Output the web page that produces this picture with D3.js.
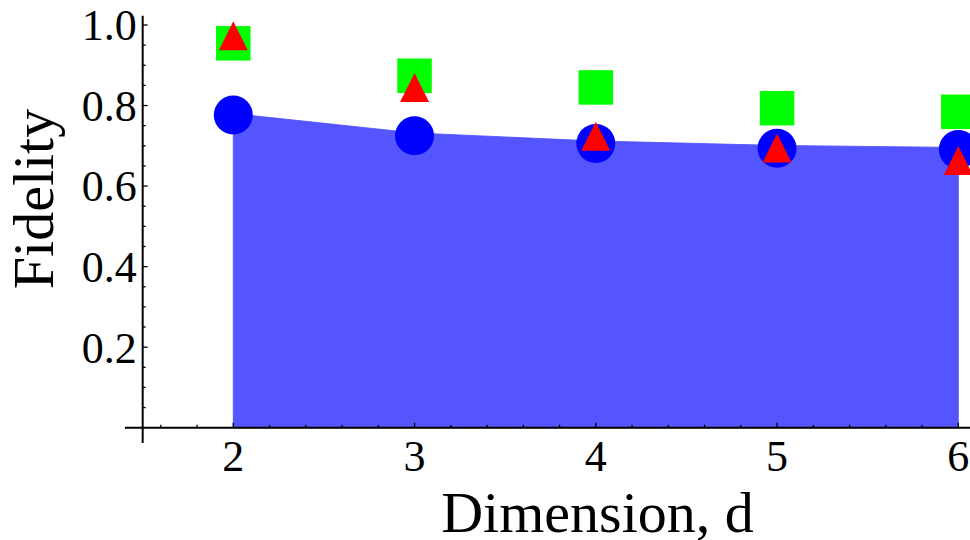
<!DOCTYPE html>
<html>
<head>
<meta charset="utf-8">
<script src="https://cdn.jsdelivr.net/npm/d3@7"></script>
<style>
  html, body { margin: 0; padding: 0; background: #fff; }
  svg { display: block; }
  text { font-family: "Liberation Serif", "Times New Roman", serif; fill: #000; }
</style>
</head>
<body>
<svg id="chart" width="970" height="540"></svg>
<script>
// Dimensions d
const dims = [2, 3, 4, 5, 6];
// Shaded bound (upper edge of the filled region)
const boundValues = [0.780, 0.732, 0.712, 0.701, 0.696];
// Blue circles
const circleValues = [0.7765, 0.725, 0.706, 0.694, 0.691];
// Green squares
const squareValues = [0.9545, 0.874, 0.845, 0.7934, 0.7845];
// Red triangles
const triangleValues = [0.973, 0.845, 0.724, 0.6946, 0.6635];

const xTickValues = [2, 3, 4, 5, 6];
const yTickValues = [0.2, 0.4, 0.6, 0.8, 1.0];
const xLabel = "Dimension, d";
const yLabel = "Fidelity";

const svg = d3.select("#chart");

const x = d3.scaleLinear().domain([2, 6]).range([233.3, 958.3]);
const y = d3.scaleLinear().domain([0, 1]).range([427.7, 25]);

const axisX = x(1.5);   // vertical axis crosses at d = 1.5
const axisY = y(0);

// Filled region under the bound
const area = d3.area()
  .x((d, i) => x(dims[i]))
  .y0(y(0))
  .y1(d => y(d));
svg.append("path")
  .datum(boundValues)
  .attr("d", area)
  .attr("fill", "#5555ff")
  .attr("stroke", "#4a4aff")
  .attr("stroke-width", 0.8);

// Axes lines
const axes = svg.append("g").attr("stroke", "#000").attr("stroke-width", 2);
axes.append("line")
  .attr("x1", x(1.402)).attr("x2", 970)
  .attr("y1", axisY).attr("y2", axisY);
axes.append("line")
  .attr("x1", axisX).attr("x2", axisX)
  .attr("y1", y(-0.038)).attr("y2", y(1.023));

// x ticks (major every 1, minor every 0.2), drawn inward (upward)
const xMinor = d3.range(1.6, 6.05, 0.2).map(v => Math.round(v * 10) / 10)
  .filter(v => !xTickValues.includes(v));
const tickG = svg.append("g").attr("stroke", "#000").attr("stroke-width", 1.3);
tickG.selectAll(".xmaj").data(xTickValues).join("line")
  .attr("x1", d => x(d)).attr("x2", d => x(d))
  .attr("y1", axisY).attr("y2", axisY - 5);
tickG.selectAll(".xmin").data(xMinor).join("line")
  .attr("x1", d => x(d)).attr("x2", d => x(d))
  .attr("y1", axisY).attr("y2", axisY - 3);

// y ticks (major every 0.2, minor every 0.05), drawn inward (rightward)
const yMinor = d3.range(0.05, 1.0, 0.05).map(v => Math.round(v * 100) / 100)
  .filter(v => !yTickValues.some(t => Math.abs(t - v) < 1e-6));
tickG.selectAll(".ymaj").data(yTickValues).join("line")
  .attr("x1", axisX).attr("x2", axisX + 5)
  .attr("y1", d => y(d)).attr("y2", d => y(d));
tickG.selectAll(".ymin").data(yMinor).join("line")
  .attr("x1", axisX).attr("x2", axisX + 3)
  .attr("y1", d => y(d)).attr("y2", d => y(d));

// Tick labels
svg.append("g").selectAll("text").data(xTickValues).join("text")
  .attr("x", d => x(d))
  .attr("y", axisY + 43)
  .attr("text-anchor", "middle")
  .attr("font-size", 44)
  .text(d => d3.format("d")(d));

svg.append("g").selectAll("text").data(yTickValues).join("text")
  .attr("x", axisX - 6)
  .attr("y", d => y(d))
  .attr("dy", "0.35em")
  .attr("text-anchor", "end")
  .attr("font-size", 44)
  .text(d => d3.format(".1f")(d));

// Axis titles
svg.append("text")
  .attr("x", 597.5)
  .attr("y", 531.5)
  .attr("text-anchor", "middle")
  .attr("font-size", 58)
  .text(xLabel);

svg.append("text")
  .attr("transform", "translate(53,199) rotate(-90)")
  .attr("text-anchor", "middle")
  .attr("font-size", 58)
  .text(yLabel);

// Markers
svg.append("g").selectAll("circle").data(circleValues).join("circle")
  .attr("cx", (d, i) => x(dims[i]))
  .attr("cy", d => y(d))
  .attr("r", 19.5)
  .attr("fill", "#0000ff");

const sq = 34.5;
svg.append("g").selectAll("rect").data(squareValues).join("rect")
  .attr("x", (d, i) => x(dims[i]) - sq / 2)
  .attr("y", d => y(d) - sq / 2)
  .attr("width", sq)
  .attr("height", sq)
  .attr("fill", "#00ff00");

const tw = 29, th = 29;
svg.append("g").selectAll("path").data(triangleValues).join("path")
  .attr("d", (d, i) => {
    const cx = x(dims[i]), cy = y(d);
    return `M${cx},${cy - th / 2}L${cx + tw / 2},${cy + th / 2}L${cx - tw / 2},${cy + th / 2}Z`;
  })
  .attr("fill", "#ff0000");
</script>
</body>
</html>
